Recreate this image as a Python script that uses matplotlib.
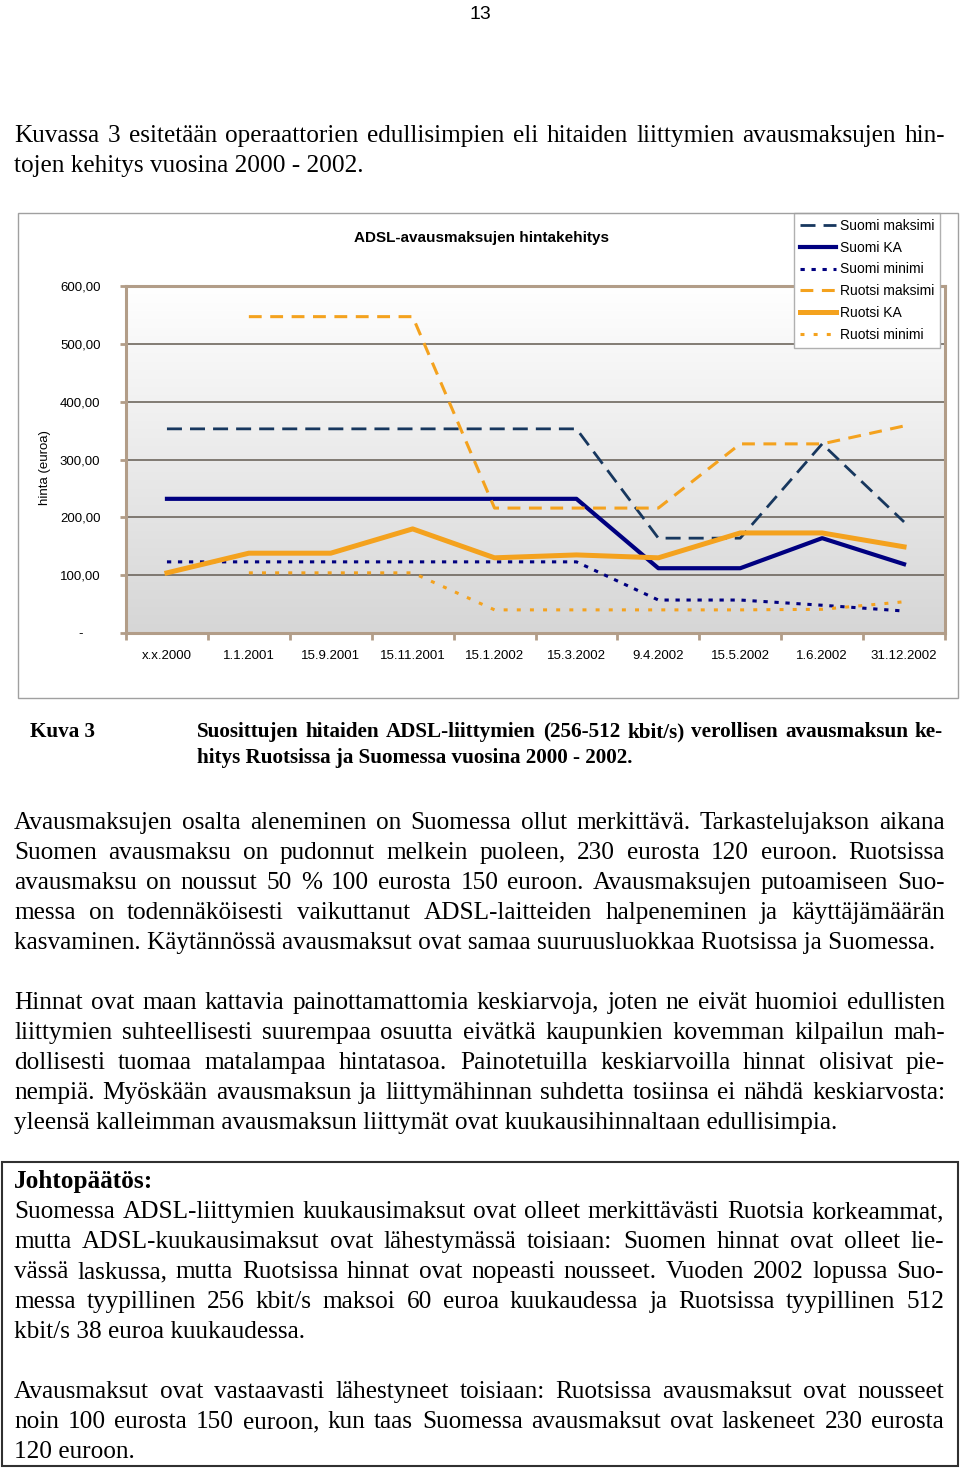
import numpy as np
import matplotlib
matplotlib.use("Agg")
import matplotlib.pyplot as plt
from matplotlib.colors import LinearSegmentedColormap
from matplotlib.patches import Rectangle

# data
dates = ["x.x.2000", "1.1.2001", "15.9.2001", "15.11.2001", "15.1.2002",
         "15.3.2002", "9.4.2002", "15.5.2002", "1.6.2002", "31.12.2002"]
suomi_max = [353, 353, 353, 353, 353, 353, 164, 164, 327, 192]
suomi_ka = [232, 232, 232, 232, 232, 232, 112, 112, 164, 119]
suomi_min = [123, 123, 123, 123, 123, 123, 57, 57, 48, 38]
ruotsi_max = [None, 547, 547, 547, 216, 216, 216, 327, 327, 358]
ruotsi_ka = [104, 138, 138, 180, 130, 135, 130, 173, 173, 149]
ruotsi_min = [None, 104, 104, 104, 40, 40, 40, 40, 41, 54]
yticks = [0, 100, 200, 300, 400, 500, 600]
ytick_labels = ["-", "100,00", "200,00", "300,00", "400,00", "500,00", "600,00"]

W, H = 960, 1468
fig = plt.figure(figsize=(W / 100, H / 100), dpi=100)
renderer = fig.canvas.get_renderer()

navy = "#000080"
slate = "#17375e"
orange = "#f4a21e"
tan = "#b29d88"

# chart frame
fig.patches.append(Rectangle((18 / W, 1 - 698 / H), 940 / W, 485 / H, transform=fig.transFigure,
                             fill=False, edgecolor="#a0a0a0", lw=1))

ax = fig.add_axes([126 / W, 1 - 633 / H, 819 / W, 347 / H])
grad = LinearSegmentedColormap.from_list("g", ["#d6d6d6", "#ffffff"])
ax.imshow(np.linspace(0, 1, 256).reshape(-1, 1), cmap=grad, origin="lower", aspect="auto",
          extent=[0, 1, 0, 1], transform=ax.transAxes, zorder=0)

x = np.arange(len(dates))
def arr(v):
    return np.array([np.nan if a is None else a for a in v], dtype=float)

ax.plot(x, arr(suomi_max), color=slate, lw=2, dashes=(5.4, 2.9), label="Suomi maksimi", zorder=3)
ax.plot(x, arr(suomi_ka), color=navy, lw=3, label="Suomi KA", zorder=3)
ax.plot(x, arr(suomi_min), color=navy, lw=2.2, dashes=(1.4, 2.2), label="Suomi minimi", zorder=3)
ax.plot(x, arr(ruotsi_max), color=orange, lw=2.2, dashes=(4.2, 2.8), label="Ruotsi maksimi", zorder=3)
ax.plot(x, arr(ruotsi_ka), color=orange, lw=3.6, label="Ruotsi KA", zorder=3)
ax.plot(x, arr(ruotsi_min), color=orange, lw=2.2, dashes=(1.3, 3.0), label="Ruotsi minimi", zorder=3)

ax.set_xlim(-0.5, 9.5)
ax.set_ylim(0, 600)
ax.set_yticks(yticks)
ax.set_yticklabels(ytick_labels, ha="center")
ax.set_xticks(x)
ax.set_xticklabels(dates)
ax.set_xticks(np.arange(-0.5, 10, 1), minor=True)
for t in [100, 200, 300, 400, 500]:
    ax.axhline(t, color="#6e675e", lw=1.2, zorder=1)
for s in ax.spines.values():
    s.set_color(tan)
    s.set_linewidth(2.2)
ax.tick_params(axis="y", length=4.5, width=2, color=tan, pad=28.5,
               labelsize=9.5, labelfontfamily="Liberation Sans")
ax.tick_params(axis="x", which="major", length=0, pad=12,
               labelsize=9.5, labelfontfamily="Liberation Sans")
ax.tick_params(axis="x", which="minor", length=5, width=2, color=tan)

ax.set_ylabel("hinta (euroa)", fontsize=9.5, family="Liberation Sans", va="center")
ax.yaxis.set_label_coords(-0.099, 0.478)
ax.text(0.4335, 1.138, "ADSL-avausmaksujen hintakehitys", transform=ax.transAxes,
        ha="center", va="center", fontsize=11, fontweight="bold", family="Liberation Sans")

leg = ax.legend(loc="upper right", bbox_to_anchor=(940 / W, 1 - 213 / H), bbox_transform=fig.transFigure,
                borderaxespad=0, fancybox=False, framealpha=1, edgecolor="#b0b0b0",
                prop={"family": "Liberation Sans", "size": 10}, handlelength=2.6,
                handletextpad=0.25, labelspacing=0.56, borderpad=0.42)
leg.get_frame().set_linewidth(1)
leg.set_zorder(5)

# page text
def put_line(text, y, x0, x1, justify, **kw):
    words = text.split()
    if not justify or len(words) < 2:
        fig.text(x0 / W, 1 - y / H, text, ha="left", va="baseline", **kw)
        return
    arts = [fig.text(0, 1 - y / H, w, ha="left", va="baseline", **kw) for w in words]
    widths = [a.get_window_extent(renderer).width for a in arts]
    gap = (x1 - x0 - sum(widths)) / (len(words) - 1)
    pos = x0
    for a, w in zip(arts, widths):
        a.set_x(pos / W)
        pos += w + gap

def paragraph(lines, y0, x0=14, x1=945, step=30, **kw):
    for i, ln in enumerate(lines):
        put_line(ln, y0 + i * step, x0, x1, i < len(lines) - 1, **kw)

body = dict(family="Liberation Serif", fontsize=18.2)

fig.text(480 / W, 1 - 19 / H, "13", ha="center", va="baseline", family="Liberation Sans", fontsize=14)

paragraph(["Kuvassa 3 esitetään operaattorien edullisimpien eli hitaiden liittymien avausmaksujen hin-",
           "tojen kehitys vuosina 2000 - 2002."], 142, **body)

cap = dict(family="Liberation Serif", fontsize=15.2, fontweight="bold")
fig.text(30 / W, 1 - 737 / H, "Kuva 3", ha="left", va="baseline", **cap)
paragraph(["Suosittujen hitaiden ADSL-liittymien (256-512 kbit/s) verollisen avausmaksun ke-",
           "hitys Ruotsissa ja Suomessa vuosina 2000 - 2002."], 737, x0=197, x1=943, step=26, **cap)

paragraph(["Avausmaksujen osalta aleneminen on Suomessa ollut merkittävä. Tarkastelujakson aikana",
           "Suomen avausmaksu on pudonnut melkein puoleen, 230 eurosta 120 euroon. Ruotsissa",
           "avausmaksu on noussut 50 % 100 eurosta 150 euroon. Avausmaksujen putoamiseen Suo-",
           "messa on todennäköisesti vaikuttanut ADSL-laitteiden halpeneminen ja käyttäjämäärän",
           "kasvaminen. Käytännössä avausmaksut ovat samaa suuruusluokkaa Ruotsissa ja Suomessa."],
          829, **body)

paragraph(["Hinnat ovat maan kattavia painottamattomia keskiarvoja, joten ne eivät huomioi edullisten",
           "liittymien suhteellisesti suurempaa osuutta eivätkä kaupunkien kovemman kilpailun mah-",
           "dollisesti tuomaa matalampaa hintatasoa. Painotetuilla keskiarvoilla hinnat olisivat pie-",
           "nempiä. Myöskään avausmaksun ja liittymähinnan suhdetta tosiinsa ei nähdä keskiarvosta:",
           "yleensä kalleimman avausmaksun liittymät ovat kuukausihinnaltaan edullisimpia."],
          1009, **body)

fig.patches.append(Rectangle((2 / W, 1 - 1466 / H), 956 / W, 304 / H, transform=fig.transFigure,
                             fill=False, edgecolor="#303030", lw=1.5))
fig.text(14 / W, 1 - 1188 / H, "Johtopäätös:", ha="left", va="baseline",
         family="Liberation Serif", fontsize=18.2, fontweight="bold")
paragraph(["Suomessa ADSL-liittymien kuukausimaksut ovat olleet merkittävästi Ruotsia korkeammat,",
           "mutta ADSL-kuukausimaksut ovat  lähestymässä toisiaan: Suomen hinnat ovat olleet lie-",
           "vässä laskussa, mutta Ruotsissa hinnat ovat nopeasti nousseet. Vuoden 2002 lopussa Suo-",
           "messa tyypillinen 256 kbit/s maksoi 60 euroa kuukaudessa ja Ruotsissa tyypillinen 512",
           "kbit/s 38 euroa kuukaudessa."], 1218, x1=944, **body)
paragraph(["Avausmaksut ovat vastaavasti lähestyneet toisiaan: Ruotsissa avausmaksut ovat nousseet",
           "noin 100 eurosta 150 euroon, kun taas Suomessa avausmaksut ovat laskeneet 230 eurosta",
           "120 euroon."], 1398, x1=944, **body)

fig.savefig("out.png", dpi=100)
